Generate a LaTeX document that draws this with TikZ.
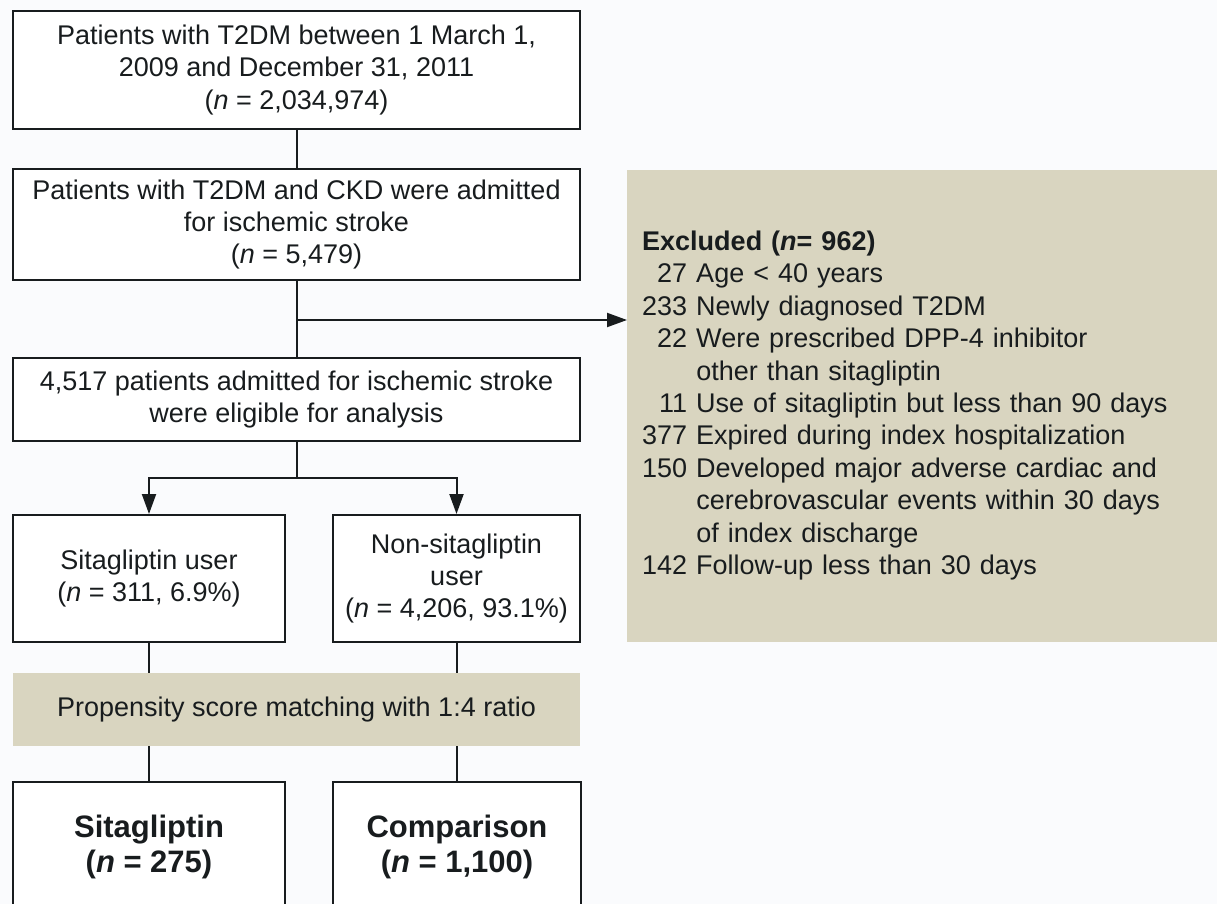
\documentclass[tikz,border=0pt]{standalone}
\usepackage{fontspec}
\setmainfont{Liberation Sans}
\usepackage{xcolor}
\usepackage{tikz}
\usetikzlibrary{positioning, arrows.meta}

\definecolor{khaki}{RGB}{217,213,192}
\definecolor{pagebg}{RGB}{250,251,253}
\definecolor{ink}{RGB}{24,28,30}

\begin{document}
\begin{tikzpicture}[
  x=1pt, y=-1pt,
  > = {Triangle[length=20pt, width=14pt]},
  color=ink,
  font=\fontsize{27}{32.4}\selectfont,
  flowbox/.style={draw=ink, line width=2pt, fill=white,
                  align=center, inner sep=0pt},
  result/.style={flowbox, font=\fontsize{31}{35}\selectfont\bfseries},
  band/.style={fill=khaki, inner sep=0pt,
               minimum width=567pt, minimum height=73pt},
  excl/.style={fill=khaki, anchor=west, inner xsep=15pt, inner ysep=0pt,
               minimum height=472pt, text width=575pt, align=left},
  link/.style={-, line width=2pt},
  arr/.style={->, line width=2pt}
]
  \useasboundingbox (0,0) rectangle (1217,904);
  \clip (0,0) rectangle (1217,904);
  \fill[pagebg] (0,0) rectangle (1217,904);

  % --- Selection column ---
  \node[flowbox, minimum width=567pt, minimum height=118pt] (pop) at (296.5, 70)
    {Patients with T2DM between 1 March 1,\\2009 and December 31, 2011\\(\textit{n} = 2,034,974)};
  \node[flowbox, minimum width=567pt, minimum height=111pt] (ckd) at (296.5, 224.5)
    {Patients with T2DM and CKD were admitted\\for ischemic stroke\\(\textit{n} = 5,479)};
  \node[flowbox, minimum width=567pt, minimum height=83pt] (elig) at (296.5, 399.5)
    {4,517 patients admitted for ischemic stroke\\were eligible for analysis};

  % --- Exclusions ---
  \node[excl] (excl) at (627, 406) {%
    \begin{tabular}{@{}r@{ }l@{}}
      \multicolumn{2}{@{}l@{}}{\bfseries Excluded (\textit{n}= 962)}\\
      27 & Age < 40 years\\
      233 & Newly diagnosed T2DM\\
      22 & Were prescribed DPP-4 inhibitor\\
         & other than sitagliptin\\
      11 & Use of sitagliptin but less than 90 days\\
      377 & Expired during index hospitalization\\
      150 & Developed major adverse cardiac and\\
          & cerebrovascular events within 30 days\\
          & of index discharge\\
      142 & Follow-up less than 30 days
    \end{tabular}};

  % --- Groups ---
  \node[flowbox, minimum width=272pt, minimum height=127pt] (situser) at (149, 578.5)
    {Sitagliptin user\\(\textit{n} = 311, 6.9\%)};
  \node[flowbox, minimum width=247pt, minimum height=127pt] (nonuser) at (456.5, 578.5)
    {Non-sitagliptin\\user\\(\textit{n} = 4,206, 93.1\%)};

  \node[band] (psm) at (296.5, 709.5) {Propensity score matching with 1:4 ratio};

  \node[result, minimum width=272pt, minimum height=130pt] (sita) at (149, 847)
    {Sitagliptin\\(\textit{n} = 275)};
  \node[result, minimum width=248pt, minimum height=130pt] (comp) at (457, 847)
    {Comparison\\(\textit{n} = 1,100)};

  % --- Connectors ---
  \draw[link] (pop) -- (ckd);
  \draw[link] (ckd) -- (elig);
  \coordinate (exit) at (296.5, 320);
  \draw[arr] (exit) -- (exit -| excl.west);

  \coordinate (split) at (296.5, 478);
  \draw[link] (elig) -- (split);
  \draw[arr] (split) -| (situser);
  \draw[arr] (split) -| (nonuser);

  \draw[link] (situser) -- (situser |- psm.north);
  \draw[link] (nonuser) -- (nonuser |- psm.north);
  \draw[link] (sita |- psm.south) -- (sita);
  \draw[link] (comp |- psm.south) -- (comp);
\end{tikzpicture}
\end{document}
